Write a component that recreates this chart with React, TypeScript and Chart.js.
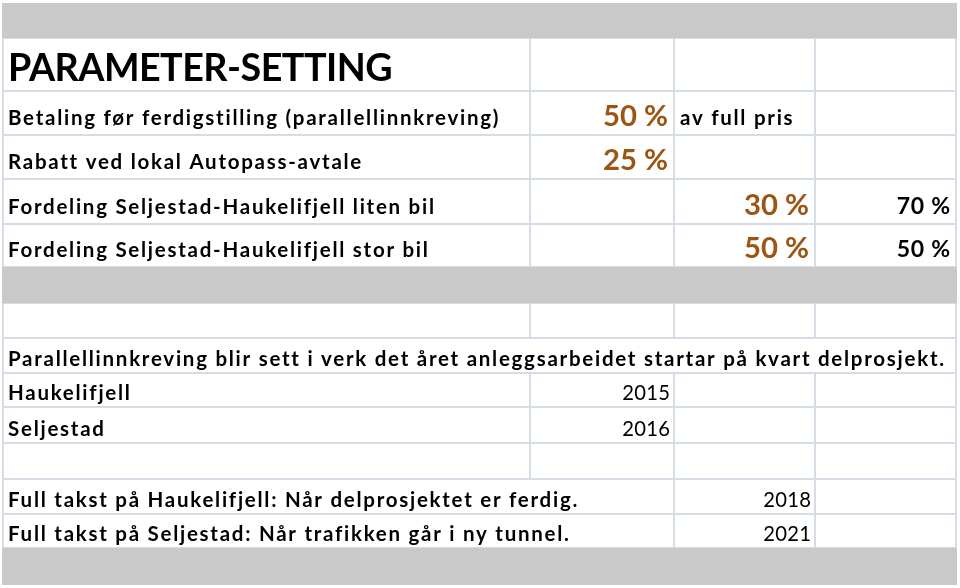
import { useEffect, useRef } from "react";
import { Chart, registerables } from "chart.js";

Chart.register(...registerables);

// ---------- data ----------
const TITLE = "PARAMETER-SETTING";
const paramLabels = [
  "Betaling før ferdigstilling (parallellinnkreving)",
  "Rabatt ved lokal Autopass-avtale",
  "Fordeling Seljestad-Haukelifjell liten bil",
  "Fordeling Seljestad-Haukelifjell stor bil",
];
const paramValues = [50, 25, 30, 50];
const paramValueColumns = [1, 1, 2, 2];
const paramRestValues: (number | null)[] = [null, null, 70, 50];
const paramNotes: (string | null)[] = ["av full pris", null, null, null];
const startNote =
  "Parallellinnkreving blir sett i verk det året anleggsarbeidet startar på kvart delprosjekt.";
const startLabels = ["Haukelifjell", "Seljestad"];
const startYears = [2015, 2016];
const fullLabels = [
  "Full takst på Haukelifjell: Når delprosjektet er ferdig.",
  "Full takst på Seljestad: Når trafikken går i ny tunnel.",
];
const fullYears = [2018, 2021];

// ---------- layout / style ----------
const COL_WIDTHS = [527, 144, 141, 141];
const ROW_HEIGHTS = [35, 53, 44, 44, 45, 43, 36, 35, 35, 34, 36, 36, 35, 34, 37];
const GRAY_ROWS = [0, 6, 14];
const TITLE_ROW = 1;
const PARAM_ROW0 = 2;
const NOTE_ROW = 8;
const START_ROW0 = 9;
const FULL_ROW0 = 12;
const GRAY = "#c9c9c9";
const GRID = "#d5dce5";
const ORANGE = "#9c5513";
const FAMILY = 'Lato, "Open Sans", "DejaVu Sans", sans-serif';
const CAP_RATIO = 0.7165;

type Kind = "title" | "body" | "orange" | "pct" | "year";
type Cell = { row: number; col: number; text: string; align: "left" | "right"; kind: Kind };

// font style per kind: cap height, weight and a reference text with its width
const FONT_SPECS: Record<Kind, { cap: number; weight: string; ref: string; width: number | null }> = {
  title: { cap: 27, weight: "bold", ref: TITLE, width: 384 },
  body: { cap: 14.7, weight: "bold", ref: startNote, width: 937 },
  orange: { cap: 21, weight: "bold", ref: "50 %", width: 65 },
  pct: { cap: 16.5, weight: "bold", ref: "70 %", width: 54 },
  year: { cap: 14.5, weight: "normal", ref: "2015", width: 48 },
};

function buildCells(): Cell[] {
  const cells: Cell[] = [];
  cells.push({ row: TITLE_ROW, col: 0, text: TITLE, align: "left", kind: "title" });
  paramLabels.forEach((label, i) => {
    const row = PARAM_ROW0 + i;
    cells.push({ row, col: 0, text: label, align: "left", kind: "body" });
    cells.push({ row, col: paramValueColumns[i], text: `${paramValues[i]} %`, align: "right", kind: "orange" });
    const rest = paramRestValues[i];
    if (rest !== null) cells.push({ row, col: 3, text: `${rest} %`, align: "right", kind: "pct" });
    const note = paramNotes[i];
    if (note) cells.push({ row, col: paramValueColumns[i] + 1, text: note, align: "left", kind: "body" });
  });
  cells.push({ row: NOTE_ROW, col: 0, text: startNote, align: "left", kind: "body" });
  startLabels.forEach((label, i) => {
    cells.push({ row: START_ROW0 + i, col: 0, text: label, align: "left", kind: "body" });
    cells.push({ row: START_ROW0 + i, col: 1, text: String(startYears[i]), align: "right", kind: "year" });
  });
  fullLabels.forEach((label, i) => {
    cells.push({ row: FULL_ROW0 + i, col: 0, text: label, align: "left", kind: "body" });
    cells.push({ row: FULL_ROW0 + i, col: 2, text: String(fullYears[i]), align: "right", kind: "year" });
  });
  return cells;
}

function cumulative(arr: number[]) {
  const out = [0];
  arr.forEach((v) => out.push(out[out.length - 1] + v));
  return out;
}

const XS = cumulative(COL_WIDTHS);
const YS = cumulative(ROW_HEIGHTS);

const sheetPlugin = {
  id: "sheetTable",
  beforeDatasetsDraw(chart: any) {
    const ctx: any = chart.ctx;
    const xScale = chart.scales.x;
    const yScale = chart.scales.y;
    const xp = (i: number) => xScale.getPixelForValue(XS[i]);
    const yp = (j: number) => yScale.getPixelForValue(YS[j]);

    // resolve font size (from cap height) and letter spacing (to match width)
    const fonts: Record<string, { font: string; spacing: number }> = {};
    (Object.keys(FONT_SPECS) as Kind[]).forEach((k) => {
      const s = FONT_SPECS[k];
      const size = s.cap / CAP_RATIO;
      const font = `${s.weight} ${size}px ${FAMILY}`;
      ctx.letterSpacing = "0px";
      ctx.font = font;
      const w = ctx.measureText(s.ref).width;
      const spacing = s.width ? (s.width - w) / s.ref.length : 0;
      fonts[k] = { font, spacing: Math.abs(spacing) < 0.02 ? 0.02 : spacing };
    });
    const applyFont = (k: Kind) => {
      ctx.font = fonts[k].font;
      ctx.letterSpacing = `${fonts[k].spacing}px`;
    };

    const cells = buildCells();

    ctx.save();
    ctx.fillStyle = "#ffffff";
    ctx.fillRect(0, 0, chart.width, chart.height);

    // how far left-aligned labels in column 0 spill to the right
    const spill: Record<number, number> = {};
    cells.forEach((c) => {
      if (c.col === 0 && c.align === "left") {
        applyFont(c.kind);
        spill[c.row] = xp(0) + 5 + ctx.measureText(c.text).width;
      }
    });

    // grid lines
    ctx.strokeStyle = GRID;
    ctx.lineWidth = 2;
    for (let r = 0; r < ROW_HEIGHTS.length; r++) {
      if (GRAY_ROWS.includes(r)) continue;
      const top = yp(r);
      const bottom = yp(r + 1);
      ctx.beginPath();
      ctx.moveTo(xp(0), top);
      ctx.lineTo(xp(COL_WIDTHS.length), top);
      ctx.moveTo(xp(0), bottom);
      ctx.lineTo(xp(COL_WIDTHS.length), bottom);
      for (let k = 0; k <= COL_WIDTHS.length; k++) {
        const x = xp(k);
        const interior = k > 0 && k < COL_WIDTHS.length;
        if (interior && spill[r] !== undefined && spill[r] > x) continue;
        ctx.moveTo(x, top);
        ctx.lineTo(x, bottom);
      }
      ctx.stroke();
    }

    // gray bands
    ctx.fillStyle = GRAY;
    GRAY_ROWS.forEach((r) => {
      ctx.fillRect(xp(0) - 1, yp(r), xp(COL_WIDTHS.length) - xp(0) + 2, yp(r + 1) - yp(r));
    });

    // text
    ctx.textBaseline = "alphabetic";
    cells.forEach((c) => {
      applyFont(c.kind);
      ctx.fillStyle = c.kind === "orange" ? ORANGE : "#000000";
      const bottom = yp(c.row + 1);
      const inParams = c.row <= PARAM_ROW0 + paramLabels.length - 1;
      const pad = inParams ? (c.kind === "orange" ? 9 : 10) : 7;
      const y = bottom - pad;
      if (c.align === "left") {
        ctx.textAlign = "left";
        const x = c.col === 0 ? xp(0) + 5 : xp(c.col) + 6;
        ctx.fillText(c.text, x, y);
      } else {
        ctx.textAlign = "right";
        const inset = c.kind === "year" ? 4 : 6;
        // letter spacing adds trailing space after the last glyph; compensate
        const x = xp(c.col + 1) - inset + fonts[c.kind].spacing;
        ctx.fillText(c.text, x, y);
      }
    });
    ctx.restore();
  },
};

export default function App() {
  const canvasRef = useRef<HTMLCanvasElement | null>(null);

  useEffect(() => {
    const canvas = canvasRef.current;
    if (!canvas) return;
    const chart = new Chart(canvas, {
      type: "scatter",
      data: { datasets: [{ data: [], pointRadius: 0 }] },
      options: {
        animation: false,
        responsive: false,
        maintainAspectRatio: false,
        devicePixelRatio: 1,
        layout: { padding: { left: 3, top: 3, right: 4, bottom: 3 } },
        plugins: { legend: { display: false }, tooltip: { enabled: false }, title: { display: false } },
        scales: {
          x: { type: "linear", display: false, min: 0, max: XS[XS.length - 1] },
          y: { type: "linear", display: false, reverse: true, min: 0, max: YS[YS.length - 1] },
        },
      },
      plugins: [sheetPlugin],
    });
    return () => chart.destroy();
  }, []);

  return (
    <div style={{ position: "absolute", left: 0, top: 0, width: 960, height: 588, background: "#fff" }}>
      <canvas ref={canvasRef} width={960} height={588} style={{ width: 960, height: 588, display: "block" }} />
    </div>
  );
}
